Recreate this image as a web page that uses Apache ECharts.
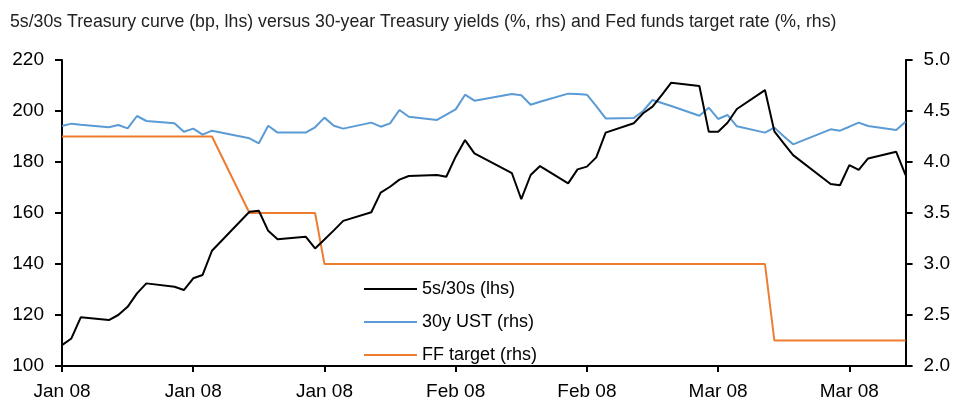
<!DOCTYPE html>
<html>
<head>
<meta charset="utf-8">
<script src="https://cdn.jsdelivr.net/npm/echarts@6/dist/echarts.min.js"></script>
<style>
  html, body { margin: 0; padding: 0; background: #fff; }
  #chart { width: 953px; height: 401px; }
</style>
</head>
<body>
<div id="chart"></div>
<script>
// trading days, Jan 2 - Apr 1 2008
const dates = [
  '2008-01-02','2008-01-03','2008-01-04','2008-01-07','2008-01-08','2008-01-09','2008-01-10','2008-01-11',
  '2008-01-14','2008-01-15','2008-01-16','2008-01-17','2008-01-18','2008-01-22','2008-01-23','2008-01-24',
  '2008-01-25','2008-01-28','2008-01-29','2008-01-30','2008-01-31','2008-02-01','2008-02-04','2008-02-05',
  '2008-02-06','2008-02-07','2008-02-08','2008-02-11','2008-02-12','2008-02-13','2008-02-14','2008-02-15',
  '2008-02-19','2008-02-20','2008-02-21','2008-02-22','2008-02-25','2008-02-26','2008-02-27','2008-02-28',
  '2008-02-29','2008-03-03','2008-03-04','2008-03-05','2008-03-06','2008-03-07','2008-03-10','2008-03-11',
  '2008-03-12','2008-03-13','2008-03-14','2008-03-17','2008-03-18','2008-03-19','2008-03-20','2008-03-24',
  '2008-03-25','2008-03-26','2008-03-27','2008-03-28','2008-03-31','2008-04-01'
];
// 5s/30s curve, bp (lhs)
const curve5s30s = [
  108.2, 110.8, 119.1, 118.0, 120.0, 123.2, 128.5, 132.4,
  131.1, 129.8, 134.4, 135.7, 145.2, 160.5, 160.9, 153.0,
  149.7, 150.7, 146.1, 149.6, 153.2, 156.9, 160.3, 168.0,
  170.3, 173.1, 174.5, 174.9, 174.2, 182.1, 188.6, 183.4,
  175.6, 165.4, 174.9, 178.4, 171.6, 177.1, 178.2, 181.8,
  191.5, 195.2, 199.1, 201.7, 206.3, 211.1, 209.8, 191.9,
  191.9, 195.4, 200.8, 208.2, 192.0, 187.3, 182.7, 171.4,
  170.9, 178.8, 176.9, 181.4, 184.0, 174.9
];
// 30y UST yield, % (rhs)
const ust30y = [
  4.353, 4.376, 4.366, 4.340, 4.363, 4.330, 4.451, 4.402,
  4.379, 4.297, 4.327, 4.268, 4.307, 4.232, 4.183, 4.356,
  4.288, 4.288, 4.340, 4.435, 4.356, 4.327, 4.386, 4.346,
  4.379, 4.510, 4.444, 4.412, 4.464, 4.516, 4.660, 4.601,
  4.667, 4.655, 4.562, 4.590, 4.670, 4.667, 4.660, 4.547,
  4.427, 4.432, 4.500, 4.608, 4.578, 4.549, 4.454, 4.533,
  4.422, 4.461, 4.350, 4.288, 4.337, 4.253, 4.173, 4.320,
  4.307, 4.346, 4.386, 4.353, 4.314, 4.395
];
// Fed funds target, % (rhs)
const ffTarget = [
  4.25, 4.25, 4.25, 4.25, 4.25, 4.25, 4.25, 4.25,
  4.25, 4.25, 4.25, 4.25, 4.25, 3.50, 3.50, 3.50,
  3.50, 3.50, 3.50, 3.00, 3.00, 3.00, 3.00, 3.00,
  3.00, 3.00, 3.00, 3.00, 3.00, 3.00, 3.00, 3.00,
  3.00, 3.00, 3.00, 3.00, 3.00, 3.00, 3.00, 3.00,
  3.00, 3.00, 3.00, 3.00, 3.00, 3.00, 3.00, 3.00,
  3.00, 3.00, 3.00, 3.00, 2.25, 2.25, 2.25, 2.25,
  2.25, 2.25, 2.25, 2.25, 2.25, 2.25
];
// x ticks every 14 days from Jan 2
const tickDays = [0, 14, 28, 42, 56, 70, 84];
const seriesNames = ['5s/30s (lhs)', '30y UST (rhs)', 'FF target (rhs)'];

const DAY = 86400000;
const t0 = Date.UTC(2008, 0, 2);
const months = ['Jan','Feb','Mar','Apr','May','Jun','Jul','Aug','Sep','Oct','Nov','Dec'];
const dayOf = s => {
  const p = s.split('-');
  return Math.round((Date.UTC(+p[0], +p[1] - 1, +p[2]) - t0) / DAY);
};
const xs = dates.map(dayOf);
const pair = arr => arr.map((v, i) => [xs[i], v]);

const FONT = '"Liberation Sans", Arial, sans-serif';

const chart = echarts.init(document.getElementById('chart'), null, { renderer: 'canvas' });

chart.setOption({
  animation: false,
  backgroundColor: '#fff',
  title: {
    text: '5s/30s Treasury curve (bp, lhs) versus 30-year Treasury yields (%, rhs) and Fed funds target rate (%, rhs)',
    left: 5,
    top: 8,
    textStyle: { fontFamily: FONT, fontSize: 17.7, fontWeight: 'normal', color: '#222' }
  },
  grid: { left: 62, right: 47, top: 60, bottom: 35, containLabel: false },
  legend: {
    data: seriesNames,
    orient: 'vertical',
    left: 364,
    top: 280,
    padding: 0,
    icon: 'rect',
    itemWidth: 53,
    itemHeight: 2,
    itemGap: 15,
    textStyle: { fontFamily: FONT, fontSize: 18, color: '#000', lineHeight: 18 }
  },
  xAxis: {
    type: 'value',
    min: 0,
    max: 90,
    axisLine: { show: true, lineStyle: { color: '#000', width: 2 } },
    axisTick: { show: true, customValues: tickDays, length: 6, lineStyle: { color: '#000', width: 2 } },
    axisLabel: {
      customValues: tickDays,
      margin: 16,
      fontFamily: FONT, fontSize: 19, color: '#000',
      formatter: v => {
        const d = new Date(t0 + v * DAY);
        return months[d.getUTCMonth()] + ' ' + String(d.getUTCFullYear()).slice(2);
      }
    },
    splitLine: { show: false }
  },
  yAxis: [
    {
      type: 'value',
      min: 100, max: 220, interval: 20,
      axisLine: { show: true, lineStyle: { color: '#000', width: 2 } },
      axisTick: { show: true, length: 7, lineStyle: { color: '#000', width: 2 } },
      axisLabel: { margin: 18, fontFamily: FONT, fontSize: 19, color: '#000' },
      splitLine: { show: false }
    },
    {
      type: 'value',
      min: 2, max: 5, interval: 0.5,
      axisLine: { show: true, lineStyle: { color: '#000', width: 2 } },
      axisTick: { show: true, length: 7, lineStyle: { color: '#000', width: 2 } },
      axisLabel: { margin: 18, fontFamily: FONT, fontSize: 19, color: '#000', formatter: v => v.toFixed(1) },
      splitLine: { show: false }
    }
  ],
  series: [
    {
      name: seriesNames[2], type: 'line', yAxisIndex: 1, data: pair(ffTarget),
      symbol: 'none', lineStyle: { color: '#ED7D31', width: 2 }, itemStyle: { color: '#ED7D31' }
    },
    {
      name: seriesNames[1], type: 'line', yAxisIndex: 1, data: pair(ust30y),
      symbol: 'none', lineStyle: { color: '#5B9BD5', width: 2 }, itemStyle: { color: '#5B9BD5' }
    },
    {
      name: seriesNames[0], type: 'line', yAxisIndex: 0, data: pair(curve5s30s),
      symbol: 'none', lineStyle: { color: '#000', width: 2 }, itemStyle: { color: '#000' }
    }
  ]
});
</script>
</body>
</html>
